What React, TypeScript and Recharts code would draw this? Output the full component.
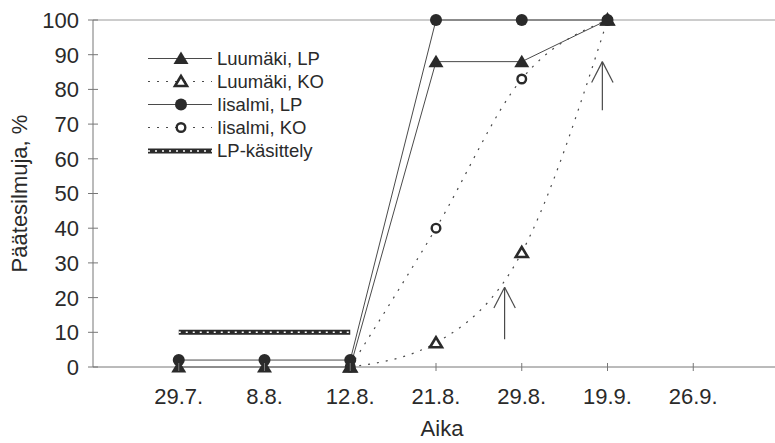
import React from 'react';
import { LineChart, Line, XAxis, YAxis, ReferenceLine, Legend } from 'recharts';

// sampling dates and bud percentages per site / treatment
const dates = ['29.7.', '8.8.', '12.8.', '21.8.', '29.8.', '19.9.', '26.9.'];
const luumakiLP = [0, 0, 0, 88, 88, 100, null];
const luumakiKO = [null, null, 0, 7, 33, 100, null];
const iisalmiLP = [2, 2, 2, 100, 100, 100, null];
const iisalmiKO = [null, null, 0, 40, 83, 100, null];
const lpTreatment = [10, 10, 10, null, null, null, null];
const yTicks = [0, 10, 20, 30, 40, 50, 60, 70, 80, 90, 100];

// arrows marking the KO treatments (x in date slots, y in %)
const arrowX = [4.8, 5.94];
const arrowFrom = [8, 74];
const arrowTo = [23, 88];

const data = dates.map((date, i) => ({
  x: i + 1,
  date,
  luumakiLP: luumakiLP[i],
  luumakiKO: luumakiKO[i],
  iisalmiLP: iisalmiLP[i],
  iisalmiKO: iisalmiKO[i],
  lpTreatment: lpTreatment[i],
}));

const FONT = '"Liberation Sans", Arial, Helvetica, sans-serif';
const INK = '#2a2a2a';
const LINE = '#4a4a4a';
const AXIS = '#777';
const DOTTED = '2 7';
const TICK = 4;
const Y_MARGIN = 10;
const X_MARGIN = 17;

type MarkerKind = 'triangle' | 'circle';

const Marker = ({ kind, filled, cx, cy }: { kind: MarkerKind; filled: boolean; cx: number; cy: number }) => {
  if (kind === 'circle') {
    return filled ? (
      <circle cx={cx} cy={cy} r={6} fill={INK} />
    ) : (
      <circle cx={cx} cy={cy} r={4.3} fill="#fff" stroke={INK} strokeWidth={2.4} />
    );
  }
  if (filled) {
    return <polygon points={`${cx},${cy - 7} ${cx - 7.5},${cy + 5.5} ${cx + 7.5},${cy + 5.5}`} fill={INK} />;
  }
  return (
    <polygon
      points={`${cx},${cy - 5.5} ${cx - 6},${cy + 4.5} ${cx + 6},${cy + 4.5}`}
      fill="#fff"
      stroke={INK}
      strokeWidth={2.6}
      strokeLinejoin="miter"
    />
  );
};

const dotFor = (kind: MarkerKind, filled: boolean) => (props: any) => {
  const { cx, cy, index } = props;
  if (cx == null || cy == null || !Number.isFinite(cy)) return <g key={`d-${index}`} />;
  return (
    <g key={`d-${index}`}>
      <Marker kind={kind} filled={filled} cx={cx} cy={cy} />
    </g>
  );
};

const legendRows = [
  { name: 'Luumäki, LP', kind: 'triangle' as MarkerKind, filled: true, dash: undefined },
  { name: 'Luumäki, KO', kind: 'triangle' as MarkerKind, filled: false, dash: DOTTED },
  { name: 'Iisalmi, LP', kind: 'circle' as MarkerKind, filled: true, dash: undefined },
  { name: 'Iisalmi, KO', kind: 'circle' as MarkerKind, filled: false, dash: DOTTED },
  { name: 'LP-käsittely', kind: null, filled: false, dash: undefined },
];

const ChainLine = ({ x1, x2, y }: { x1: number; x2: number; y: number }) => (
  <g>
    <line x1={x1} x2={x2} y1={y} y2={y} stroke={INK} strokeWidth={5} />
    <line x1={x1} x2={x2} y1={y} y2={y} stroke="#fff" strokeWidth={1.6} strokeDasharray="2 5" />
  </g>
);

const renderLegend = () => (
  <div style={{ fontFamily: FONT, fontSize: 18.5, color: INK }}>
    {legendRows.map((row) => (
      <div key={row.name} style={{ display: 'flex', alignItems: 'center', height: 23 }}>
        <svg width={66} height={23} style={{ display: 'block' }}>
          {row.kind ? (
            <>
              <line x1={0} x2={64} y1={11.5} y2={11.5} stroke={LINE} strokeWidth={1} strokeDasharray={row.dash} />
              <Marker kind={row.kind} filled={row.filled} cx={33} cy={11.5} />
            </>
          ) : (
            <ChainLine x1={0} x2={64} y={12} />
          )}
        </svg>
        <span style={{ marginLeft: 3, whiteSpace: 'pre' }}>{row.name}</span>
      </div>
    ))}
  </div>
);

const YTick = (props: any) => {
  const { x, y, payload } = props;
  return (
    <g>
      <line x1={x + Y_MARGIN + TICK - 5} x2={x + Y_MARGIN + TICK + 5} y1={y} y2={y} stroke={AXIS} />
      <text x={x} y={y} dy="0.36em" textAnchor="end" fontFamily={FONT} fontSize={22} fill={INK}>
        {payload.value}
      </text>
    </g>
  );
};

const XTick = (props: any) => {
  const { x, y, payload } = props;
  const axisY = y - X_MARGIN - TICK;
  return (
    <g>
      <line x1={x} x2={x} y1={axisY - TICK} y2={axisY + TICK} stroke={AXIS} />
      <text x={x} y={y} dy="0.71em" textAnchor="middle" fontFamily={FONT} fontSize={22} fill={INK}>
        {dates[payload.value - 1]}
      </text>
    </g>
  );
};

const YLabel = ({ viewBox }: any) => {
  const cx = viewBox.x + 19;
  const cy = viewBox.y + viewBox.height / 2;
  return (
    <text
      x={cx}
      y={cy}
      transform={`rotate(-90, ${cx}, ${cy})`}
      textAnchor="middle"
      dominantBaseline="central"
      fontFamily={FONT}
      fontSize={22}
      fill={INK}
    >
      Päätesilmuja, %
    </text>
  );
};

const XLabel = ({ viewBox }: any) => (
  <text
    x={viewBox.x + viewBox.width / 2 + 6}
    y={viewBox.y + viewBox.height - 7}
    textAnchor="middle"
    fontFamily={FONT}
    fontSize={22}
    fill={INK}
  >
    Aika
  </text>
);

const HEAD_DX = 0.125;
const HEAD_DY = 6;

export default function App() {
  return (
    <div style={{ position: 'absolute', left: 0, top: 0, background: '#fff' }}>
      <LineChart width={775} height={443} data={data} margin={{ top: 20, right: -4, bottom: 0, left: 0 }}>
        <XAxis
          dataKey="x"
          type="number"
          domain={[0, 8]}
          ticks={[1, 2, 3, 4, 5, 6, 7]}
          height={76}
          tickSize={TICK}
          tickMargin={X_MARGIN}
          tickLine={false}
          axisLine={{ stroke: AXIS }}
          tick={<XTick />}
          label={{ content: <XLabel /> }}
        />
        <YAxis
          type="number"
          domain={[0, 100]}
          ticks={yTicks}
          width={93}
          tickSize={TICK}
          tickMargin={Y_MARGIN}
          tickLine={false}
          axisLine={{ stroke: AXIS }}
          tick={<YTick />}
          label={{ content: <YLabel /> }}
        />
        <ReferenceLine y={100} stroke="#9a9a9a" strokeWidth={1} />
        <Legend
          content={renderLegend}
          layout="horizontal"
          verticalAlign="middle"
          align="center"
          wrapperStyle={{ left: 148, top: 47, width: 220 }}
        />

        {arrowX.map((ax, i) => (
          <ReferenceLine key={`a-${i}`} segment={[{ x: ax, y: arrowFrom[i] }, { x: ax, y: arrowTo[i] }]} stroke={LINE} strokeWidth={1.2} />
        ))}
        {arrowX.map((ax, i) => (
          <ReferenceLine key={`l-${i}`} segment={[{ x: ax - HEAD_DX, y: arrowTo[i] - HEAD_DY }, { x: ax, y: arrowTo[i] }]} stroke={LINE} strokeWidth={1.2} />
        ))}
        {arrowX.map((ax, i) => (
          <ReferenceLine key={`r-${i}`} segment={[{ x: ax + HEAD_DX, y: arrowTo[i] - HEAD_DY }, { x: ax, y: arrowTo[i] }]} stroke={LINE} strokeWidth={1.2} />
        ))}

        {/* LP treatment period, drawn as a chain bar */}
        <Line dataKey="lpTreatment" stroke={INK} strokeWidth={5} dot={false} activeDot={false} isAnimationActive={false} />
        <Line dataKey="lpTreatment" stroke="#fff" strokeWidth={1.6} strokeDasharray="2 5" dot={false} activeDot={false} isAnimationActive={false} />

        {/* control (KO) series under the LP series so shared points show the filled markers */}
        <Line dataKey="luumakiKO" type="monotone" stroke={LINE} strokeWidth={1.2} strokeDasharray={DOTTED} dot={dotFor('triangle', false)} activeDot={false} isAnimationActive={false} />
        <Line dataKey="iisalmiKO" type="monotone" stroke={LINE} strokeWidth={1.2} strokeDasharray={DOTTED} dot={dotFor('circle', false)} activeDot={false} isAnimationActive={false} />
        <Line dataKey="luumakiLP" type="linear" stroke={LINE} strokeWidth={1} dot={dotFor('triangle', true)} activeDot={false} isAnimationActive={false} />
        <Line dataKey="iisalmiLP" type="linear" stroke={LINE} strokeWidth={1} dot={dotFor('circle', true)} activeDot={false} isAnimationActive={false} />
      </LineChart>
    </div>
  );
}
